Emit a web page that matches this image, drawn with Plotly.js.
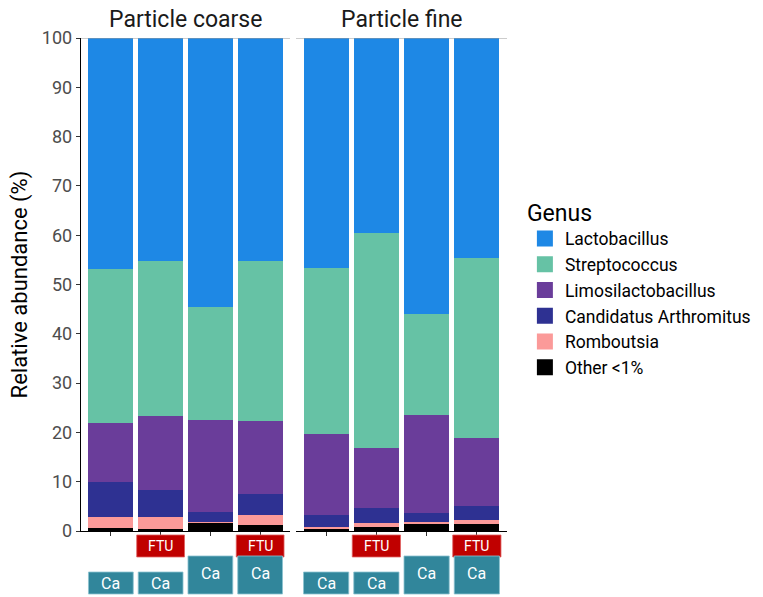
<!DOCTYPE html>
<html>
<head>
<meta charset="utf-8">
<script src="https://cdn.plot.ly/plotly-3.0.1.min.js"></script>
<style>html,body{margin:0;padding:0;background:#fff;}#chart{width:763px;height:597px;}</style>
</head>
<body>
<div id="chart"></div>
<script>
// ---- data ----
const samplesCoarse = ["Coarse 1", "Coarse 2", "Coarse 3", "Coarse 4"];
const samplesFine = ["Fine 1", "Fine 2", "Fine 3", "Fine 4"];
const panelTitles = ["Particle coarse", "Particle fine"];
const genera = ["Other <1%", "Romboutsia", "Candidatus Arthromitus", "Limosilactobacillus", "Streptococcus", "Lactobacillus"];
const genusColors = ["#000000", "#FB9A99", "#2E3192", "#6A3D9A", "#66C2A5", "#1E88E5"];

// relative abundance (%) per genus, coarse samples 1-4
const coarseOther = [0.7, 0.5, 1.6, 1.2];
const coarseRomboutsia = [2.2, 2.3, 0.3, 2.0];
const coarseCandidatus = [7.1, 5.5, 1.9, 4.4];
const coarseLimosi = [11.9, 15.0, 18.7, 14.8];
const coarseStrepto = [31.2, 31.5, 23.0, 32.4];
const coarseLacto = [46.9, 45.2, 54.6, 45.2];

// relative abundance (%) per genus, fine samples 1-4
const fineOther = [0.45, 0.8, 1.5, 1.4];
const fineRomboutsia = [0.3, 0.9, 0.3, 0.8];
const fineCandidatus = [2.45, 2.9, 1.85, 2.9];
const fineLimosi = [16.4, 12.3, 19.95, 13.7];
const fineStrepto = [33.7, 43.5, 20.4, 36.6];
const fineLacto = [46.7, 39.6, 56.0, 44.6];

// sample annotation boxes
const ftuFlags = [false, true, false, true];
const caLabels = ["Ca", "Ca", "Ca", "Ca"];
const caTall = [false, false, true, true];

const coarseSeries = [coarseOther, coarseRomboutsia, coarseCandidatus, coarseLimosi, coarseStrepto, coarseLacto];
const fineSeries = [fineOther, fineRomboutsia, fineCandidatus, fineLimosi, fineStrepto, fineLacto];

const FONT = "Roboto, 'Liberation Sans', Arial, sans-serif";
const traces = [];
genera.forEach((g, i) => {
  traces.push({
    type: "bar", name: g, x: samplesCoarse, y: coarseSeries[i], xaxis: "x", yaxis: "y",
    marker: {color: genusColors[i], line: {width: 0}}, width: 0.9,
    legendgroup: g, showlegend: false, hoverinfo: "name+y"
  });
  traces.push({
    type: "bar", name: g, x: samplesFine, y: fineSeries[i], xaxis: "x2", yaxis: "y",
    marker: {color: genusColors[i], line: {width: 0}}, width: 0.9,
    legendgroup: g, showlegend: false, hoverinfo: "name+y"
  });
});
// legend entries (square keys), top to bottom
for (let i = genera.length - 1; i >= 0; i--) {
  traces.push({
    type: "scatter", mode: "markers", name: genera[i], x: [null], y: [null], xaxis: "x", yaxis: "y",
    marker: {symbol: "square", size: 16, color: genusColors[i], line: {width: 0}},
    legendgroup: genera[i], showlegend: true, hoverinfo: "skip"
  });
}

const shapes = [];
const annotations = [];
// grey line at 100 across each panel
["x", "x2"].forEach(xr => {
  shapes.push({type: "line", xref: xr + " domain", yref: "y", x0: 0, x1: 1, y0: 100, y1: 100,
    line: {color: "#9a9a9a", width: 1}, layer: "above"});
});
// FTU / Ca boxes
const FTU_Y0 = -0.0527, FTU_Y1 = -0.0081;
const CA_Y0 = -0.1278, CA_SHORT_Y1 = -0.0832, CA_TALL_Y1 = -0.0507;
["x", "x2"].forEach(xr => {
  for (let k = 0; k < 4; k++) {
    if (ftuFlags[k]) {
      shapes.push({type: "rect", xref: xr, yref: "paper", x0: k - 0.48, x1: k + 0.48, y0: FTU_Y0, y1: FTU_Y1,
        fillcolor: "#C00000", line: {color: "#E06060", width: 0.8}, layer: "above"});
      annotations.push({xref: xr, yref: "paper", x: k, y: (FTU_Y0 + FTU_Y1) / 2, text: "FTU", showarrow: false,
        font: {family: FONT, size: 14, color: "#ffffff"}, xanchor: "center", yanchor: "middle"});
    }
    const y1 = caTall[k] ? CA_TALL_Y1 : CA_SHORT_Y1;
    shapes.push({type: "rect", xref: xr, yref: "paper", x0: k - 0.45, x1: k + 0.45, y0: CA_Y0, y1: y1,
      fillcolor: "#31869B", line: {color: "#8cc3d0", width: 0.8}, layer: "above"});
    annotations.push({xref: xr, yref: "paper", x: k, y: (CA_Y0 + y1) / 2 + (caTall[k] ? 0.004 : 0), text: caLabels[k], showarrow: false,
      font: {family: FONT, size: 16, color: "#ffffff"}, xanchor: "center", yanchor: "middle"});
  }
});
// panel titles
annotations.push({xref: "x domain", yref: "paper", x: 0.5, y: 1.0, yshift: 3, text: panelTitles[0], showarrow: false,
  font: {family: FONT, size: 23, color: "#1a1a1a"}, xanchor: "center", yanchor: "bottom"});
annotations.push({xref: "x2 domain", yref: "paper", x: 0.5, y: 1.0, yshift: 3, text: panelTitles[1], showarrow: false,
  font: {family: FONT, size: 23, color: "#1a1a1a"}, xanchor: "center", yanchor: "bottom"});

const xBase = {
  type: "category", range: [-0.6, 3.6], showline: true, linecolor: "#000000", linewidth: 1.2,
  ticks: "outside", ticklen: 4, tickcolor: "#333333", tickwidth: 1, showticklabels: false,
  showgrid: false, zeroline: false, fixedrange: true
};

const layout = {
  width: 763, height: 597,
  margin: {l: 81, r: 256, t: 38, b: 66, pad: 0, autoexpand: false},
  paper_bgcolor: "#ffffff", plot_bgcolor: "#ffffff",
  barmode: "stack", bargap: 0.1,
  font: {family: FONT},
  xaxis: Object.assign({}, xBase, {domain: [0, 0.4906], anchor: "y"}),
  xaxis2: Object.assign({}, xBase, {domain: [0.5047, 1], anchor: "y"}),
  yaxis: {
    range: [0, 100], tickvals: [0,10,20,30,40,50,60,70,80,90,100], showline: true, linecolor: "#000000", linewidth: 1.2,
    ticks: "outside", ticklen: 4, tickcolor: "#333333", showgrid: false, zeroline: false,
    tickfont: {family: FONT, size: 18, color: "#4d4d4d"},
    title: {text: "Relative abundance (%)", font: {family: FONT, size: 22, color: "#000000"}, standoff: 8},
    fixedrange: true
  },
  legend: {
    x: 1.042, xanchor: "left", y: 0.69, yanchor: "top", traceorder: "normal",
    title: {text: "Genus", font: {family: FONT, size: 23, color: "#000000"}},
    font: {family: FONT, size: 17.5, color: "#000000"}, bgcolor: "rgba(0,0,0,0)", borderwidth: 0,
    tracegroupgap: 0, itemsizing: "trace"
  },
  shapes: shapes,
  annotations: annotations
};

Plotly.newPlot("chart", traces, layout, {displayModeBar: false, staticPlot: true});
</script>
</body>
</html>
